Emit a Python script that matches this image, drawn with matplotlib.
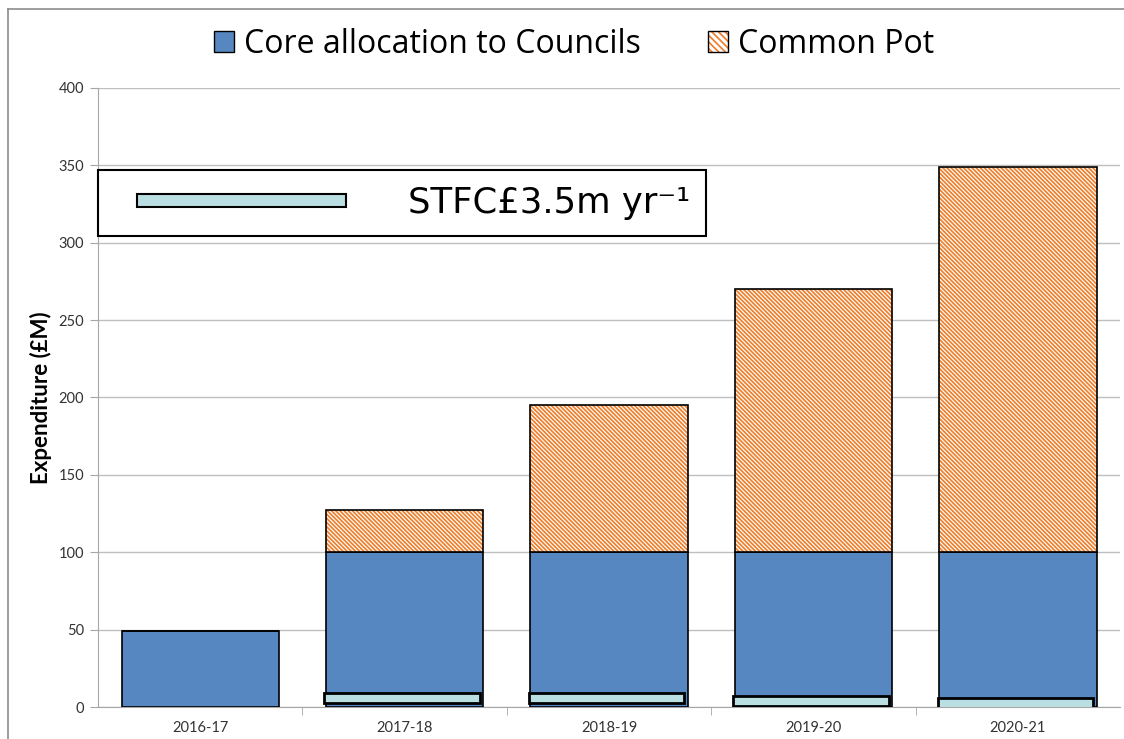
import numpy as np
import matplotlib
matplotlib.use("Agg")
import matplotlib.pyplot as plt
from matplotlib.patches import Patch, Rectangle
from matplotlib.lines import Line2D
from matplotlib.legend_handler import HandlerPatch

# values (£M)
years = ["2016-17", "2017-18", "2018-19", "2019-20", "2020-21"]
core = [49, 100, 100, 100, 100]
common_pot = [0, 27.5, 95, 170, 249]
# STFC contribution shown as thin floating bars near the axis
stfc_years = ["2017-18", "2018-19", "2019-20", "2020-21"]
stfc_bottom = [2.6, 2.6, 0.9, -0.6]
stfc_height = [6.4, 6.4, 6.4, 6.4]

BLUE = "#5687C1"
ORANGE = "#EE7F2D"
CYAN = "#B9DFE2"
HATCH = "\\" * 8


class ThinBarHandler(HandlerPatch):
    # thin bar, indented inside the handle box
    def create_artists(self, legend, orig_handle, xdescent, ydescent,
                       width, height, fontsize, trans):
        h = fontsize * 0.36
        off = fontsize * 0.65
        r = Rectangle((-xdescent + off, -ydescent + (height - h) / 2),
                      width - off, h, facecolor=CYAN, edgecolor="black",
                      lw=1.5, transform=trans)
        return [r]


def main():
    plt.rcParams["hatch.linewidth"] = 1.25
    fig = plt.figure(figsize=(11.24, 7.39), dpi=100)
    ax = fig.add_axes([0.0872, 0.0433, 0.9093, 0.8377])

    x = np.arange(len(years))
    w = 0.77

    ax.bar(x, core, w, color=BLUE, edgecolor="black", lw=1.2, zorder=3)
    # hatch takes the edge colour, so draw the orange hatch then a black outline
    ax.bar(x, common_pot, w, bottom=core, facecolor="white", edgecolor=ORANGE,
           hatch=HATCH, lw=0, zorder=3)
    ax.bar(x, common_pot, w, bottom=core, fill=False, edgecolor="black",
           lw=1.2, zorder=3)
    xs = [years.index(y) for y in stfc_years]
    ax.bar(np.array(xs) - 0.012, stfc_height, 0.76, bottom=stfc_bottom,
           color=CYAN, edgecolor="black", lw=2, zorder=4)

    ax.set_xlim(-0.5, len(years) - 0.5)
    ax.set_ylim(0, 400)
    ax.set_yticks(range(0, 401, 50))
    ax.set_xticks(x)
    ax.set_xticklabels(years)
    ax.set_xticks(np.arange(0.5, len(years) - 0.5, 1), minor=True)
    ax.tick_params(axis="x", which="major", length=0, pad=10)
    ax.tick_params(axis="x", which="minor", length=6, color="#A6A6A6",
                   direction="out")
    ax.tick_params(axis="y", length=6, color="#A6A6A6", pad=4)
    for lab in ax.get_xticklabels() + ax.get_yticklabels():
        lab.set_fontfamily("Lato")
        lab.set_fontsize(10.5)
        lab.set_color("#333333")

    ax.grid(axis="y", color="#BFBFBF", lw=1, zorder=0)
    ax.set_axisbelow(True)
    for s in ["top", "right"]:
        ax.spines[s].set_visible(False)
    ax.spines["left"].set_color("#A6A6A6")
    ax.spines["bottom"].set_color("#A6A6A6")

    ax.set_ylabel("Expenditure (£M)", fontfamily="Lato", fontweight="bold",
                  fontsize=16)
    ax.yaxis.set_label_coords(-0.045, 0.5)

    # top legend
    core_h = Patch(facecolor=BLUE, edgecolor="black", lw=1)
    pot_h = (Patch(facecolor="white", edgecolor=ORANGE, hatch="\\" * 5, lw=0),
             Patch(fill=False, edgecolor="black", lw=1))
    fig.legend([core_h, pot_h], ["Core allocation to Councils", "Common Pot"],
               loc="center", bbox_to_anchor=(0.511, 0.94), ncol=2,
               frameon=False, prop={"family": "Open Sans", "size": 23},
               handlelength=0.62, handleheight=0.62,
               handletextpad=0.32, columnspacing=2.1)

    # STFC legend inside axes
    stfc_handle = Patch(facecolor=CYAN, edgecolor="black")
    leg2 = ax.legend([stfc_handle], ["STFC£3.5m yr⁻¹"],
                     loc="upper left", bbox_to_anchor=(0.0, 0.8675),
                     borderaxespad=0, fancybox=False, framealpha=1,
                     edgecolor="black",
                     prop={"family": "DejaVu Sans", "size": 25.5},
                     handlelength=6.55, handletextpad=1.75, borderpad=0.45,
                     handler_map={Patch: ThinBarHandler()})
    leg2.get_frame().set_linewidth(1.5)
    leg2.set_zorder(5)

    # outer chart frame (left and top edges)
    fig.add_artist(Line2D([0.0071, 0.0071], [0, 0.988], color="#8C8C8C",
                          lw=1.2, transform=fig.transFigure))
    fig.add_artist(Line2D([0.0071, 1.0], [0.988, 0.988], color="#8C8C8C",
                          lw=1.2, transform=fig.transFigure))

    fig.savefig("out.png", dpi=100)


if __name__ == "__main__":
    main()
